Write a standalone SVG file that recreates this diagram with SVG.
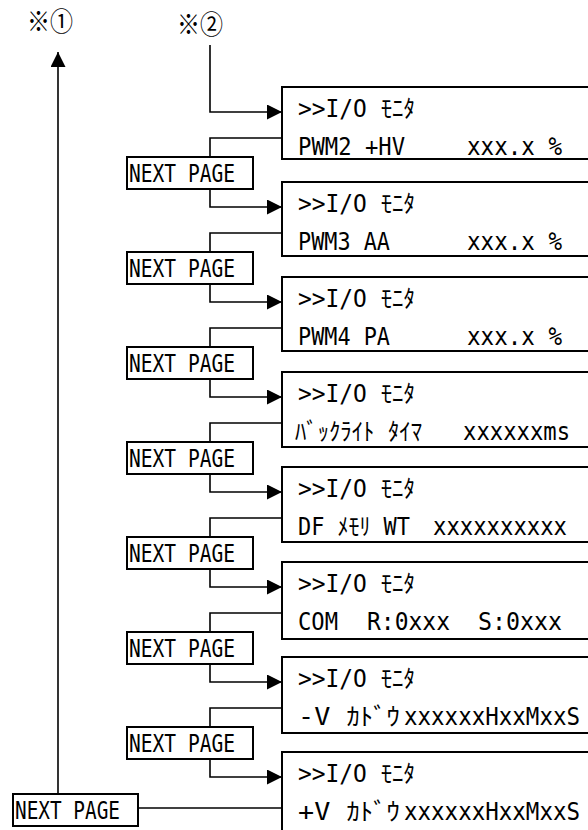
<svg xmlns="http://www.w3.org/2000/svg" width="588" height="830" viewBox="0 0 588 830">
<style>
text{font-family:"DejaVu Sans Mono","Noto Sans CJK JP",monospace;font-size:24px;fill:#000}
.box{fill:#fff;stroke:#000;stroke-width:2}
.np{fill:#fff;stroke:#000;stroke-width:2}
.c{fill:none;stroke:#000;stroke-width:1.6}
.lbl{font-family:"Noto Sans CJK JP","Liberation Sans",sans-serif;font-size:26px}
</style>
<defs>
<marker id="ah" markerUnits="userSpaceOnUse" markerWidth="16" markerHeight="16" refX="15" refY="7.5" orient="auto">
<path d="M0,0 L15,7.5 L0,15 z" fill="#000"/>
</marker>
</defs>
<rect width="588" height="830" fill="#fff"/>
<text class="lbl" x="27" y="31" textLength="46" lengthAdjust="spacingAndGlyphs">※①</text>
<text class="lbl" x="177" y="34" textLength="46" lengthAdjust="spacingAndGlyphs">※②</text>

<g id="connectors">
<path class="c" d="M210,45 V112 H282" marker-end="url(#ah)"/>
<path class="c" d="M58,794 V52" marker-end="url(#ah)"/>
<path class="c" d="M138,808 H282"/>
<path class="c" d="M282,138 H210 V157"/><path class="c" d="M210,189 V207 H282" marker-end="url(#ah)"/>
<path class="c" d="M282,233 H210 V252"/><path class="c" d="M210,284 V302 H282" marker-end="url(#ah)"/>
<path class="c" d="M282,328 H210 V347"/><path class="c" d="M210,379 V397 H282" marker-end="url(#ah)"/>
<path class="c" d="M282,423 H210 V442"/><path class="c" d="M210,474 V492 H282" marker-end="url(#ah)"/>
<path class="c" d="M282,518 H210 V537"/><path class="c" d="M210,569 V587 H282" marker-end="url(#ah)"/>
<path class="c" d="M282,613 H210 V632"/><path class="c" d="M210,664 V682 H282" marker-end="url(#ah)"/>
<path class="c" d="M282,708 H210 V727"/><path class="c" d="M210,759 V777 H282" marker-end="url(#ah)"/>
</g>

<g id="page1">
<rect class="box" x="282" y="87" width="320" height="72"/>
<text x="298" y="117" textLength="117" lengthAdjust="spacingAndGlyphs">&gt;&gt;I/O ﾓﾆﾀ</text>
<text x="298" y="155" textLength="107" lengthAdjust="spacingAndGlyphs">PWM2 +HV</text>
<text x="467" y="155" textLength="95" lengthAdjust="spacingAndGlyphs">xxx.x %</text>
</g>
<g id="page2">
<rect class="box" x="282" y="182" width="320" height="74"/>
<text x="298" y="212" textLength="117" lengthAdjust="spacingAndGlyphs">&gt;&gt;I/O ﾓﾆﾀ</text>
<text x="298" y="250" textLength="92" lengthAdjust="spacingAndGlyphs">PWM3 AA</text>
<text x="467" y="250" textLength="95" lengthAdjust="spacingAndGlyphs">xxx.x %</text>
</g>
<g id="page3">
<rect class="box" x="282" y="277" width="320" height="74"/>
<text x="298" y="307" textLength="117" lengthAdjust="spacingAndGlyphs">&gt;&gt;I/O ﾓﾆﾀ</text>
<text x="298" y="345" textLength="92" lengthAdjust="spacingAndGlyphs">PWM4 PA</text>
<text x="467" y="345" textLength="95" lengthAdjust="spacingAndGlyphs">xxx.x %</text>
</g>
<g id="page4">
<rect class="box" x="282" y="372" width="320" height="75"/>
<text x="298" y="402" textLength="117" lengthAdjust="spacingAndGlyphs">&gt;&gt;I/O ﾓﾆﾀ</text>
<text x="295" y="440" textLength="127" lengthAdjust="spacingAndGlyphs">ﾊﾞｯｸﾗｲﾄ ﾀｲﾏ</text>
<text x="463" y="440" textLength="107" lengthAdjust="spacingAndGlyphs">xxxxxxms</text>
</g>
<g id="page5">
<rect class="box" x="282" y="467" width="320" height="75"/>
<text x="298" y="497" textLength="117" lengthAdjust="spacingAndGlyphs">&gt;&gt;I/O ﾓﾆﾀ</text>
<text x="298" y="535" textLength="112" lengthAdjust="spacingAndGlyphs">DF ﾒﾓﾘ WT</text>
<text x="433" y="535" textLength="134" lengthAdjust="spacingAndGlyphs">xxxxxxxxxx</text>
</g>
<g id="page6">
<rect class="box" x="282" y="562" width="320" height="77"/>
<text x="298" y="592" textLength="117" lengthAdjust="spacingAndGlyphs">&gt;&gt;I/O ﾓﾆﾀ</text>
<text x="298" y="630" textLength="40" lengthAdjust="spacingAndGlyphs">COM</text>
<text x="367" y="630" textLength="83" lengthAdjust="spacingAndGlyphs">R:0xxx</text>
<text x="478" y="630" textLength="84" lengthAdjust="spacingAndGlyphs">S:0xxx</text>
</g>
<g id="page7">
<rect class="box" x="282" y="657" width="320" height="76"/>
<text x="298" y="687" textLength="117" lengthAdjust="spacingAndGlyphs">&gt;&gt;I/O ﾓﾆﾀ</text>
<text x="298" y="725" textLength="102" lengthAdjust="spacingAndGlyphs">-V ｶﾄﾞｳ</text>
<text x="404" y="725" textLength="176" lengthAdjust="spacingAndGlyphs">xxxxxxHxxMxxS</text>
</g>
<g id="page8">
<rect class="box" x="282" y="752" width="320" height="90"/>
<text x="298" y="782" textLength="117" lengthAdjust="spacingAndGlyphs">&gt;&gt;I/O ﾓﾆﾀ</text>
<text x="298" y="820" textLength="102" lengthAdjust="spacingAndGlyphs">+V ｶﾄﾞｳ</text>
<text x="404" y="820" textLength="176" lengthAdjust="spacingAndGlyphs">xxxxxxHxxMxxS</text>
</g>

<g id="next1"><rect class="np" x="127" y="157" width="126" height="32"/><text x="129" y="182" textLength="106" lengthAdjust="spacingAndGlyphs">NEXT PAGE</text></g>
<g id="next2"><rect class="np" x="127" y="252" width="126" height="32"/><text x="129" y="277" textLength="106" lengthAdjust="spacingAndGlyphs">NEXT PAGE</text></g>
<g id="next3"><rect class="np" x="127" y="347" width="126" height="32"/><text x="129" y="372" textLength="106" lengthAdjust="spacingAndGlyphs">NEXT PAGE</text></g>
<g id="next4"><rect class="np" x="127" y="442" width="126" height="32"/><text x="129" y="467" textLength="106" lengthAdjust="spacingAndGlyphs">NEXT PAGE</text></g>
<g id="next5"><rect class="np" x="127" y="537" width="126" height="32"/><text x="129" y="562" textLength="106" lengthAdjust="spacingAndGlyphs">NEXT PAGE</text></g>
<g id="next6"><rect class="np" x="127" y="632" width="126" height="32"/><text x="129" y="657" textLength="106" lengthAdjust="spacingAndGlyphs">NEXT PAGE</text></g>
<g id="next7"><rect class="np" x="127" y="727" width="126" height="32"/><text x="129" y="752" textLength="106" lengthAdjust="spacingAndGlyphs">NEXT PAGE</text></g>
<g id="next8"><rect class="np" x="13" y="794" width="125" height="32"/><text x="15" y="819" textLength="105" lengthAdjust="spacingAndGlyphs">NEXT PAGE</text></g>
</svg>
